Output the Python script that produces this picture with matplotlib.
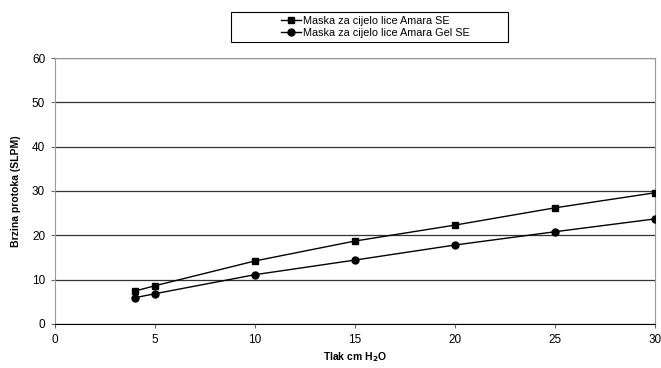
import matplotlib
matplotlib.use("Agg")
import matplotlib.pyplot as plt
from matplotlib.patches import Rectangle

# pressure (cm H2O)
tlak = [4, 5, 10, 15, 20, 25, 30]
# flow (SLPM)
amara_se = [7.4, 8.6, 14.2, 18.7, 22.3, 26.2, 29.6]
amara_gel_se = [5.9, 6.8, 11.1, 14.4, 17.8, 20.8, 23.7]

labels = ["Maska za cijelo lice Amara SE", "Maska za cijelo lice Amara Gel SE"]

plt.rcParams['font.family'] = ['Liberation Sans', 'DejaVu Sans']

W, H = 661, 368
fig = plt.figure(figsize=(W / 100, H / 100), dpi=100)
ax = fig.add_axes([0.083, 0.12, 0.908, 0.722])

ax.plot(tlak, amara_se, 's-', color='black', linewidth=1.0, markersize=5, label=labels[0], zorder=3)
ax.plot(tlak, amara_gel_se, 'o-', color='black', linewidth=1.0, markersize=5, label=labels[1], zorder=3)

ax.set_xlim(0, 30)
ax.set_ylim(0, 60)
ax.set_xticks(range(0, 31, 5))
ax.set_yticks(range(0, 61, 10))
ax.yaxis.grid(True, color='#333333', linewidth=0.9)
ax.set_axisbelow(True)

for side in ['top', 'right', 'left']:
    ax.spines[side].set_color('#999999')
ax.spines['bottom'].set_color('black')
ax.tick_params(axis='both', labelsize=8.5, length=3, color='#666666', pad=4)

ax.set_xlabel(r'Tlak cm H$_\mathbf{2}$O', fontsize=7.5, fontweight='bold', labelpad=3)
ax.set_ylabel('Brzina protoka (SLPM)', fontsize=7.5, fontweight='bold', labelpad=8)

# legend box drawn separately so it can be wider than its contents
fig.patches.append(Rectangle((231 / W, 1 - 42 / H), (508 - 231) / W, 30 / H,
                             transform=fig.transFigure, fill=False,
                             edgecolor='black', linewidth=0.8))
fig.legend(loc='center', bbox_to_anchor=(0.568, 1 - 27 / H), fontsize=7.8, frameon=False,
           borderpad=0.0, labelspacing=0.15, handlelength=1.9, handletextpad=0.2,
           borderaxespad=0)

plt.savefig('out.png', dpi=100)
